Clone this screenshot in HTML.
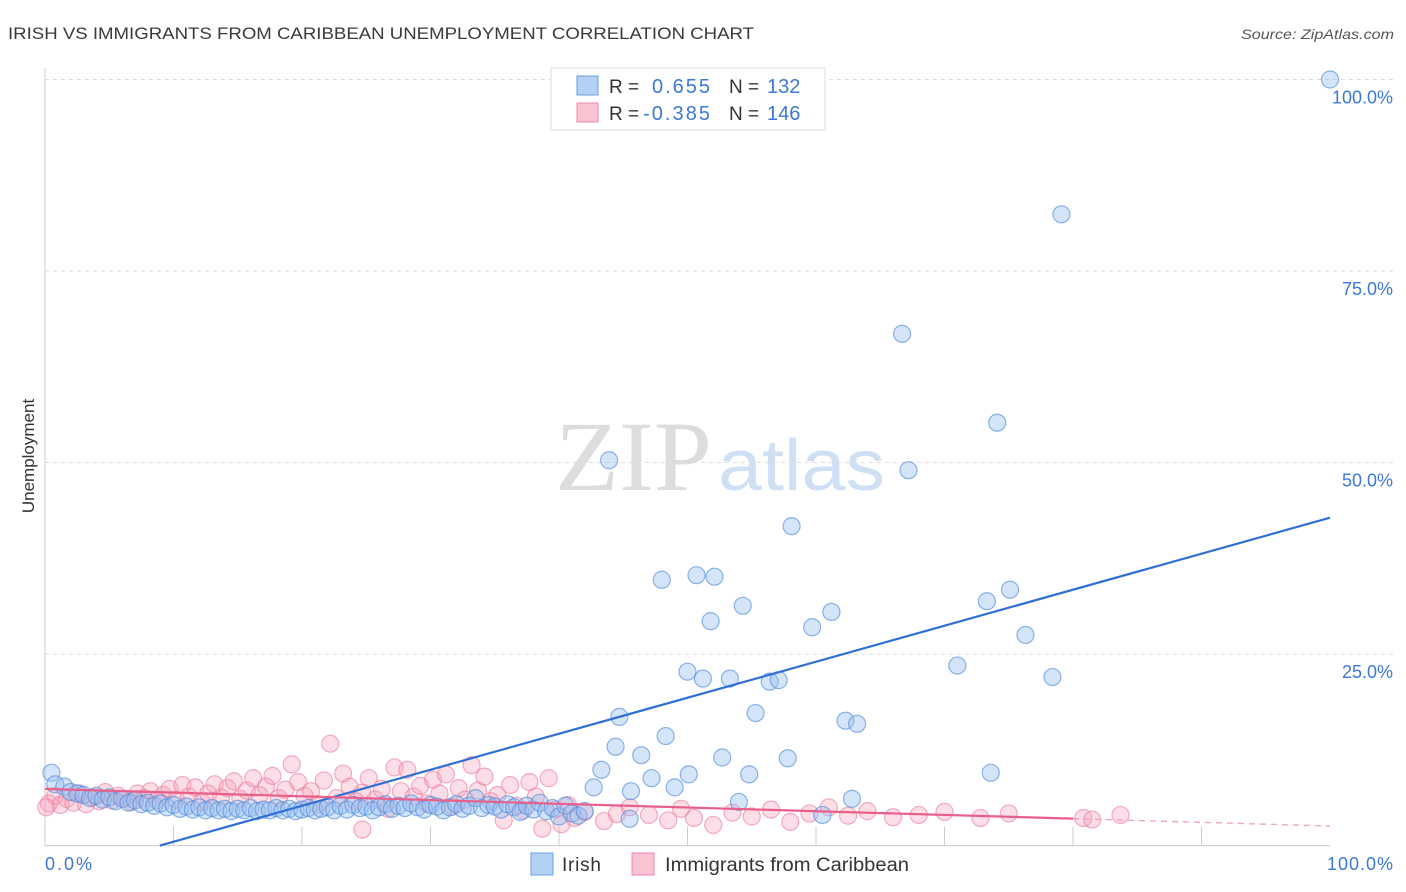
<!DOCTYPE html>
<html><head><meta charset="utf-8"><style>
body{margin:0;background:#fff;width:1406px;height:892px;overflow:hidden;font-family:"Liberation Sans",sans-serif}
svg{position:absolute;left:0;top:0}
</style></head><body>
<svg id="c" width="1406" height="892">
<text x="8" y="39" font-size="17" fill="#3a3a3a" textLength="746" lengthAdjust="spacingAndGlyphs">IRISH VS IMMIGRANTS FROM CARIBBEAN UNEMPLOYMENT CORRELATION CHART</text>
<text x="1394" y="39" font-size="14" fill="#555" font-style="italic" text-anchor="end" textLength="153" lengthAdjust="spacingAndGlyphs">Source: ZipAtlas.com</text>
<text x="712" y="490" font-size="100" fill="#ddd" text-anchor="end" font-family="Liberation Serif,serif" textLength="157" lengthAdjust="spacingAndGlyphs">ZIP</text>
<text x="718" y="490" font-size="72" fill="#cfe0f5" textLength="167" lengthAdjust="spacingAndGlyphs">atlas</text>
<g id="grid"></g><g id="pts"></g><g id="lines"></g>
<text transform="translate(34,456) rotate(-90)" font-size="17" fill="#333" text-anchor="middle">Unemployment</text>
<text x="45" y="870" font-size="18" fill="#3b78d8" textLength="47">0.0%</text>
<text x="1393" y="870" font-size="18" fill="#3b78d8" text-anchor="end" textLength="66">100.0%</text>
<g>
<rect x="551" y="68" width="274" height="62" fill="#fff" stroke="#ddd"/>
<rect x="577" y="76" width="21" height="19" fill="#b3d0f5" stroke="#6a9ee0"/>
<rect x="577" y="103" width="21" height="19" fill="#f9c3d2" stroke="#f08aaa"/>
<text x="609" y="93" font-size="19" fill="#333">R =</text><text x="652" y="93" font-size="20" fill="#3b78d8" textLength="58">0.655</text>
<text x="729" y="93" font-size="19" fill="#333">N =</text><text x="767" y="93" font-size="20" fill="#3b78d8">132</text>
<text x="609" y="120" font-size="19" fill="#333">R =</text><text x="643" y="120" font-size="20" fill="#3b78d8" textLength="67">-0.385</text>
<text x="729" y="120" font-size="19" fill="#333">N =</text><text x="767" y="120" font-size="20" fill="#3b78d8">146</text>
</g>
<g>
<rect x="531" y="853" width="22" height="22" fill="#b3d0f5" stroke="#6a9ee0"/>
<text x="562" y="871" font-size="19" fill="#333" textLength="39">Irish</text>
<rect x="632" y="853" width="22" height="22" fill="#f9c3d2" stroke="#f08aaa"/>
<text x="665" y="871" font-size="19" fill="#333" textLength="244" lengthAdjust="spacingAndGlyphs">Immigrants from Caribbean</text>
</g>
</svg>
<script>
const yTicks=[25,50,75,100];
const yTickLabels=["25.0%","50.0%","75.0%","100.0%"];
const xTicks=[10,20,30,40,50,60,70,80,90];
const irishX=[100,79.1,66.7,74.1,67.2,43.9,58.1,48.0,50.7,52.1,54.3,51.8,61.2,59.7,73.3,75.1,76.3,71.0,78.4,50.0,51.2,53.3,56.4,57.1,55.3,44.7,62.3,63.2,48.3,44.4,46.4,52.7,57.8,43.3,50.1,54.8,73.6,47.2,42.7,49.0,45.6,54.0,62.8,60.5,45.5,
0.5,0.8,1.5,2,2.5,3,3.5,4,4.5,5,5.5,6,6.5,7,7.5,8,8.5,9,9.5,10,10.5,11,11.5,12,12.5,13,13.5,14,14.5,15,15.5,16,16.5,17,17.5,18,18.5,19,19.5,20,20.5,21,21.5,22,22.5,23,23.5,24,24.5,25,25.5,26,26.5,27,27.5,28,28.5,29,29.5,30,30.5,31,31.5,32,32.5,33,33.5,34,34.5,35,35.5,36,36.5,37,37.5,38,38.5,39,39.5,40,40.5,41,41.5,42];
const irishY=[100,82.4,66.8,55.2,49.0,50.3,41.7,34.7,35.3,35.1,31.3,29.3,30.5,28.5,31.9,33.4,27.5,23.5,22.0,22.7,21.8,21.8,21.4,21.6,17.3,16.8,16.3,15.9,14.3,12.9,11.8,11.5,11.4,9.9,9.3,9.3,9.5,8.8,7.6,7.6,7.1,5.7,6.1,4.0,3.5,
9.5,8,7.7,7,6.8,6.6,6.2,6.5,6,6.3,5.8,6.1,5.6,5.9,5.4,5.6,5.2,5.5,5,5.3,4.8,5.1,4.7,5,4.6,4.9,4.6,4.8,4.5,4.8,4.6,4.9,4.5,4.7,4.6,4.9,4.6,4.8,4.5,4.7,4.9,4.6,4.8,5,4.6,5.2,4.7,5.3,4.9,5.1,4.6,5,5.4,4.8,5.2,4.9,5.5,5,4.7,5.3,5.1,4.6,5,5.4,4.8,5.2,6.2,4.9,5.3,5.1,4.7,5.4,5,4.4,5.2,4.7,5.6,4.5,4.9,3.8,5.2,4.2,3.9,4.5];
const caribX=[0.3,0.8,1.2,1.7,2.2,2.7,3.2,3.7,4.2,4.7,5.2,5.7,6.2,6.7,7.2,7.7,8.2,8.7,9.2,9.7,10.2,10.7,11.2,11.7,12.2,12.7,13.2,13.7,14.2,14.7,15.2,15.7,16.2,16.7,17.2,17.7,18.2,18.7,19.2,19.7,20.2,20.7,21.2,21.7,22.2,22.7,23.2,23.7,24.2,24.7,25.2,25.7,26.2,26.7,27.2,27.7,28.2,28.7,29.2,29.7,30.2,30.7,31.2,31.7,32.2,32.7,33.2,33.7,34.2,34.7,35.2,35.7,36.2,36.7,37.2,37.7,38.2,38.7,39.2,39.7,40.2,40.7,41.2,42,43.5,44.5,45.5,47,48.5,49.5,50.5,52,53.5,55,56.5,58,59.5,61,62.5,64,66,68,70,72.8,75,80.8,81.5,83.7,24.7,0.1];
const caribY=[5.5,6.5,5.3,6.1,5.6,6.8,5.4,6.3,5.8,7,5.9,6.5,6.1,5.7,6.8,6.2,7.1,5.9,6.6,7.4,6,7.9,6.4,7.6,5.7,6.8,8,6.3,7.5,8.4,6.1,7.2,8.8,6.6,7.7,9.1,6.2,7.3,10.6,8.3,6.5,7.1,5.4,8.5,13.3,6.2,9.4,7.7,5.8,6.9,8.8,6,7.4,4.8,10.2,7.1,9.9,6.4,7.8,5.5,8.6,6.8,9.3,5.1,7.5,6,10.5,7.2,9,5.8,6.6,3.3,7.9,5.2,4.6,8.3,6.4,2.2,8.8,4.7,2.8,5.3,3.6,4.4,3.2,4.1,5,4,3.3,4.8,3.6,2.7,4.3,3.8,4.7,3.1,4.2,5,3.9,4.5,3.7,4,4.4,3.6,4.2,3.6,3.4,4,2.1,5];
const irishLine=[-4.2,0.47];   // intercept, slope
const caribLine=[7.4,-0.0485];
const NS='http://www.w3.org/2000/svg';
const X0=45,X1=1330,Y0=845.6,Y1=79.5;
const xs=v=>X0+(X1-X0)*v/100, ys=v=>Y0-(Y0-Y1)*v/100;
function mk(t,a,p){const e=document.createElementNS(NS,t);for(const k in a)e.setAttribute(k,a[k]);p.appendChild(e);return e;}
const grid=document.getElementById('grid');
yTicks.forEach((t,i)=>{
 const l=mk('line',{x1:X0,x2:1395,y1:ys(t),y2:ys(t),stroke:'#ddd','stroke-dasharray':'4,4'},grid);
 
 
 const tx=mk('text',{x:1393,y:ys(t)+24,'font-size':18,fill:'#3b78d8','text-anchor':'end'},grid);
 tx.textContent=yTickLabels[i];
 
 
});
const ax=mk('line',{x1:X0,x2:X0,y1:68,y2:Y0,stroke:'#ccc'},grid);


const bx=mk('line',{x1:X0,x2:X1,y1:Y0,y2:Y0,stroke:'#ccc'},grid);


xTicks.forEach(t=>{
 const l=mk('line',{x1:xs(t),x2:xs(t),y1:Y0-19,y2:Y0,stroke:'#ccc'},grid);
 
 
});
const pts=document.getElementById('pts');
caribX.forEach((x,i)=>{
 const c=mk('circle',{cx:xs(x),cy:ys(caribY[i]),r:8.5,fill:'rgba(245,160,185,0.35)',stroke:'rgba(235,120,155,0.6)','stroke-width':1.2},pts);
 
 
});
irishX.forEach((x,i)=>{
 const c=mk('circle',{cx:xs(x),cy:ys(irishY[i]),r:8.5,fill:'rgba(150,190,240,0.4)',stroke:'rgba(80,140,220,0.65)','stroke-width':1.2},pts);
 
 
});
const lines=document.getElementById('lines');
const x0b=-irishLine[0]/irishLine[1];
const il=mk('line',{x1:xs(x0b),y1:ys(0),x2:xs(100),y2:ys(irishLine[0]+irishLine[1]*100),stroke:'#2f6fd6','stroke-width':2.2},lines);


const cl=mk('line',{x1:xs(0),y1:ys(caribLine[0]),x2:xs(80),y2:ys(caribLine[0]+caribLine[1]*80),stroke:'#e8608a','stroke-width':2.2},lines);


const cd=mk('line',{x1:xs(80),y1:ys(caribLine[0]+caribLine[1]*80),x2:xs(100),y2:ys(caribLine[0]+caribLine[1]*100),stroke:'#f0a0b8','stroke-width':1.3,'stroke-dasharray':'6,5'},lines);


</script>
</body></html>
